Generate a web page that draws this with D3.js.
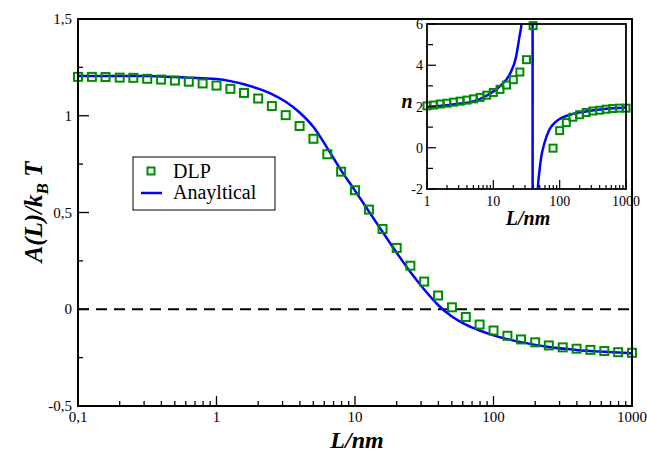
<!DOCTYPE html>
<html>
<head>
<meta charset="utf-8">
<script src="https://cdn.jsdelivr.net/npm/d3@7"></script>
<style>
  body { margin: 0; background: #fff; }
  svg { display: block; }
</style>
</head>
<body>
<div id="chart"></div>
<script>
'use strict';

// main panel: DLP squares
var dlpL = [0.1, 0.126, 0.158, 0.2, 0.251, 0.316, 0.398, 0.501, 0.631, 0.794,
  1, 1.26, 1.58, 2, 2.51, 3.16, 3.98, 5.01, 6.31, 7.94,
  10, 12.6, 15.8, 20, 25.1, 31.6, 39.8, 50.1, 63.1, 79.4,
  100, 126, 158, 200, 251, 316, 398, 501, 631, 794, 1000];
var dlpA = [1.201, 1.201, 1.200, 1.197, 1.196, 1.191, 1.187, 1.182, 1.176, 1.167,
  1.156, 1.139, 1.118, 1.089, 1.050, 1.003, 0.947, 0.881, 0.801, 0.711,
  0.615, 0.515, 0.415, 0.317, 0.225, 0.143, 0.071, 0.010, -0.040, -0.079,
  -0.110, -0.137, -0.156, -0.171, -0.187, -0.197, -0.204, -0.210, -0.216, -0.222, -0.225];

// main panel: analytical curve
var anaL = [0.1, 0.316, 0.5, 0.794, 1, 1.26, 1.58, 2, 2.51, 3.16, 3.98, 5.01, 6.31, 7.94,
  10, 12.6, 15.8, 20, 25.1, 31.6, 39.8, 50.1, 63.1, 79.4, 100, 158, 251, 398, 631, 1000];
var anaA = [1.205, 1.205, 1.200, 1.194, 1.190, 1.179, 1.163, 1.140, 1.112, 1.072, 1.017, 0.942, 0.833, 0.718,
  0.613, 0.505, 0.400, 0.292, 0.192, 0.102, 0.022, -0.038, -0.080, -0.110, -0.135, -0.170, -0.195, -0.210, -0.220, -0.228];

// inset: exponent n
var insetDlpL = [1, 1.26, 1.58, 2, 2.51, 3.16, 3.98, 5.01, 6.31, 7.94, 10, 12.6, 15.8, 20, 25.1, 31.6, 39.8,
  79.4, 100, 126, 158, 200, 251, 316, 398, 501, 631, 794, 1000];
var insetDlpN = [2.03, 2.07, 2.12, 2.16, 2.21, 2.26, 2.31, 2.37, 2.44, 2.55, 2.68, 2.83, 3.04, 3.30, 3.67, 4.27, 5.92,
  -0.02, 0.83, 1.22, 1.48, 1.60, 1.71, 1.78, 1.82, 1.87, 1.90, 1.92, 1.92];
var insetAnaL = [1, 2, 3, 5, 7.85, 12.4, 17.5, 22.1, 24.8, 26.6, 30, 35, 39, 39.2, 42, 46.8,
  49.5, 52.4, 58.9, 69.8, 88, 111, 156, 248, 440, 1000];
var insetAnaN = [1.98, 2.06, 2.13, 2.24, 2.52, 2.97, 3.54, 4.43, 5.4, 6.0, 9, 20, 80, -80, -8, -2,
  -1.15, -0.5, 0.22, 0.87, 1.27, 1.47, 1.63, 1.76, 1.87, 1.95];

var xTicks = [0.1, 1, 10, 100, 1000];
var xTickLabels = ['0,1', '1', '10', '100', '1000'];
var yTicks = [-0.5, 0, 0.5, 1, 1.5];
var yTickLabels = ['-0,5', '0', '0,5', '1', '1,5'];
var insetXTicks = [1, 10, 100, 1000];
var insetYTicks = [-2, 0, 2, 4, 6];

var GREEN = '#008c00';
var BLUE = '#0000ff';
var FONT = "'Liberation Serif', 'DejaVu Serif', 'Times New Roman', Times, serif";

var W = 647, H = 452;
var svg = d3.select('#chart').append('svg').attr('width', W).attr('height', H)
  .attr('font-family', FONT);
svg.append('rect').attr('width', W).attr('height', H).attr('fill', '#fff');

// minor ticks for a log axis (2..9 of each decade)
function logMinors(lo, hi) {
  var out = [];
  for (var d = lo; d < hi; d *= 10) {
    for (var m = 2; m <= 9; m++) out.push(d * m);
  }
  return out;
}

// ---------- main panel ----------
var x = d3.scaleLog().domain([0.1, 1000]).range([78, 632]);
var y = d3.scaleLinear().domain([-0.5, 1.5]).range([406, 19]);

var main = svg.append('g');

// dashed zero line
main.append('line')
  .attr('x1', x(0.1)).attr('x2', x(1000))
  .attr('y1', y(0)).attr('y2', y(0))
  .attr('stroke', '#000').attr('stroke-width', 2)
  .attr('stroke-dasharray', '11,7');

main.append('path')
  .datum(anaL.map(function (l, i) { return [l, anaA[i]]; }))
  .attr('fill', 'none')
  .attr('stroke', BLUE)
  .attr('stroke-width', 2.5)
  .attr('d', d3.line().curve(d3.curveMonotoneX)
    .x(function (d) { return x(d[0]); })
    .y(function (d) { return y(d[1]); }));

main.append('g').selectAll('rect')
  .data(dlpL.map(function (l, i) { return [l, dlpA[i]]; }))
  .join('rect')
  .attr('x', function (d) { return x(d[0]) - 4; })
  .attr('y', function (d) { return y(d[1]) - 4; })
  .attr('width', 8).attr('height', 8)
  .attr('fill', 'none')
  .attr('stroke', GREEN)
  .attr('stroke-width', 2);

// ticks (inward)
var mt = main.append('g').attr('stroke', '#000').attr('stroke-width', 1.3);
mt.selectAll('.xmaj').data(xTicks).join('line')
  .attr('x1', function (d) { return x(d); }).attr('x2', function (d) { return x(d); })
  .attr('y1', 406).attr('y2', 396);
mt.selectAll('.xmin').data(logMinors(0.1, 1000)).join('line')
  .attr('x1', function (d) { return x(d); }).attr('x2', function (d) { return x(d); })
  .attr('y1', 406).attr('y2', 401);
mt.selectAll('.ymaj').data(yTicks).join('line')
  .attr('y1', function (d) { return y(d); }).attr('y2', function (d) { return y(d); })
  .attr('x1', 78).attr('x2', 89);
mt.selectAll('.ymin').data(d3.range(-0.25, 1.5, 0.5)).join('line')
  .attr('y1', function (d) { return y(d); }).attr('y2', function (d) { return y(d); })
  .attr('x1', 78).attr('x2', 83);

main.append('rect')
  .attr('x', 78).attr('y', 19).attr('width', 632 - 78).attr('height', 406 - 19)
  .attr('fill', 'none').attr('stroke', '#000').attr('stroke-width', 2);

main.append('g').selectAll('text').data(xTicks).join('text')
  .attr('x', function (d) { return x(d); })
  .attr('y', 422)
  .attr('text-anchor', 'middle')
  .attr('font-size', 15)
  .text(function (d, i) { return xTickLabels[i]; });

main.append('g').selectAll('text').data(yTicks).join('text')
  .attr('x', 72)
  .attr('y', function (d) { return y(d) + 5; })
  .attr('text-anchor', 'end')
  .attr('font-size', 15)
  .text(function (d, i) { return yTickLabels[i]; });

main.append('text')
  .attr('x', 357).attr('y', 448)
  .attr('text-anchor', 'middle')
  .attr('font-size', 24).attr('font-weight', 'bold').attr('font-style', 'italic')
  .text('L/nm');

var yt = main.append('text')
  .attr('transform', 'translate(42,212) rotate(-90)')
  .attr('text-anchor', 'middle')
  .attr('font-size', 25).attr('font-weight', 'bold').attr('font-style', 'italic');
yt.append('tspan').text('A(L)/k');
yt.append('tspan').attr('font-size', 17).attr('dy', 6).text('B');
yt.append('tspan').attr('dy', -6).text(' T');

// legend
var lg = main.append('g');
lg.append('rect').attr('x', 133).attr('y', 157).attr('width', 142).attr('height', 53)
  .attr('fill', '#fff').attr('stroke', '#000').attr('stroke-width', 1);
lg.append('rect').attr('x', 147.5).attr('y', 167.5).attr('width', 7).attr('height', 7)
  .attr('fill', 'none').attr('stroke', GREEN).attr('stroke-width', 2);
lg.append('line').attr('x1', 141).attr('x2', 162).attr('y1', 193).attr('y2', 193)
  .attr('stroke', BLUE).attr('stroke-width', 2.5);
lg.append('text').attr('x', 173).attr('y', 178).attr('font-size', 20).text('DLP');
lg.append('text').attr('x', 173).attr('y', 199).attr('font-size', 20).text('Anayltical');

// ---------- inset ----------
var ix = d3.scaleLog().domain([1, 1000]).range([427, 626]);
var iy = d3.scaleLinear().domain([-2, 6]).range([189, 24]);

var inset = svg.append('g');
inset.append('rect').attr('x', 427).attr('y', 24).attr('width', 626 - 427).attr('height', 189 - 24)
  .attr('fill', '#fff');

svg.append('defs').append('clipPath').attr('id', 'insetClip')
  .append('rect').attr('x', 427).attr('y', 24).attr('width', 626 - 427).attr('height', 189 - 24);

inset.append('path')
  .datum(insetAnaL.map(function (l, i) { return [l, insetAnaN[i]]; }))
  .attr('clip-path', 'url(#insetClip)')
  .attr('fill', 'none')
  .attr('stroke', BLUE)
  .attr('stroke-width', 2.5)
  .attr('d', d3.line().curve(d3.curveMonotoneX)
    .x(function (d) { return ix(d[0]); })
    .y(function (d) { return iy(d[1]); }));

inset.append('g').selectAll('rect')
  .data(insetDlpL.map(function (l, i) { return [l, insetDlpN[i]]; }))
  .join('rect')
  .attr('x', function (d) { return ix(d[0]) - 3.5; })
  .attr('y', function (d) { return iy(d[1]) - 3.5; })
  .attr('width', 7).attr('height', 7)
  .attr('fill', 'none')
  .attr('stroke', GREEN)
  .attr('stroke-width', 2);

var it = inset.append('g').attr('stroke', '#000').attr('stroke-width', 1.2);
it.selectAll('.xmaj').data(insetXTicks).join('line')
  .attr('x1', function (d) { return ix(d); }).attr('x2', function (d) { return ix(d); })
  .attr('y1', 189).attr('y2', 180);
it.selectAll('.xmin').data(logMinors(1, 1000)).join('line')
  .attr('x1', function (d) { return ix(d); }).attr('x2', function (d) { return ix(d); })
  .attr('y1', 189).attr('y2', 185);
it.selectAll('.ymaj').data(insetYTicks).join('line')
  .attr('y1', function (d) { return iy(d); }).attr('y2', function (d) { return iy(d); })
  .attr('x1', 427).attr('x2', 436);
it.selectAll('.ymin').data([-1, 1, 3, 5]).join('line')
  .attr('y1', function (d) { return iy(d); }).attr('y2', function (d) { return iy(d); })
  .attr('x1', 427).attr('x2', 433);

inset.append('rect').attr('x', 427).attr('y', 24).attr('width', 626 - 427).attr('height', 189 - 24)
  .attr('fill', 'none').attr('stroke', '#000').attr('stroke-width', 1.8);

inset.append('g').selectAll('text').data(insetXTicks).join('text')
  .attr('x', function (d) { return ix(d); })
  .attr('y', 206)
  .attr('text-anchor', 'middle')
  .attr('font-size', 14)
  .text(function (d) { return d; });

inset.append('g').selectAll('text').data(insetYTicks).join('text')
  .attr('x', 423)
  .attr('y', function (d) { return iy(d) + 5; })
  .attr('text-anchor', 'end')
  .attr('font-size', 14)
  .text(function (d) { return d; });

inset.append('text')
  .attr('x', 528).attr('y', 225)
  .attr('text-anchor', 'middle')
  .attr('font-size', 20).attr('font-weight', 'bold').attr('font-style', 'italic')
  .text('L/nm');

inset.append('text')
  .attr('x', 407).attr('y', 108)
  .attr('text-anchor', 'middle')
  .attr('font-size', 20).attr('font-weight', 'bold').attr('font-style', 'italic')
  .text('n');
</script>
</body>
</html>
